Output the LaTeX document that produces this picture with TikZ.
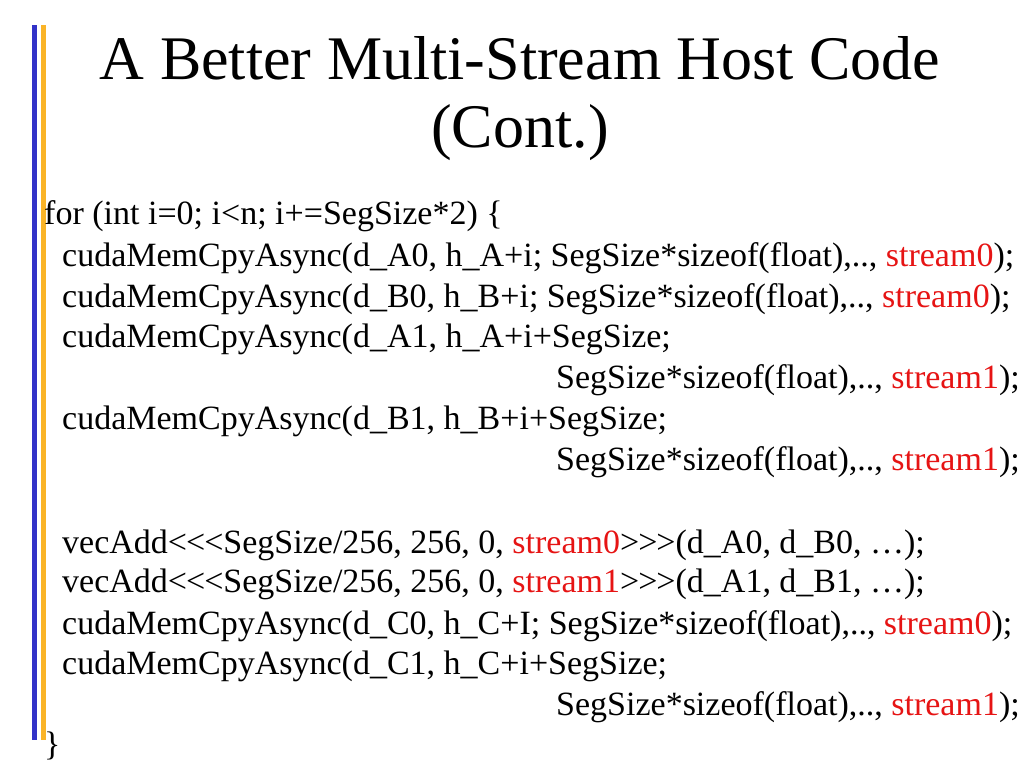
\documentclass[tikz,border=0pt]{standalone}
\usepackage{fontspec}
\setmainfont{Liberation Serif}
\begin{document}
\begin{tikzpicture}[x=1pt,y=-1pt,
  ln/.style={anchor=base west,inner sep=0pt,font=\fontsize{34}{36}\selectfont},
  tt/.style={anchor=center,inner sep=0pt,font=\fontsize{62}{66}\selectfont}]
\definecolor{sred}{RGB}{230,20,20}
\definecolor{bbar}{RGB}{50,50,200}
\definecolor{obar}{RGB}{250,180,40}
\newcommand\rs[1]{\textcolor{sred}{#1}}
\useasboundingbox (0,0) rectangle (1024,768);
\fill[bbar] (32,25) rectangle (37,740);
\fill[obar] (41,25) rectangle (46,740);
\node[tt] (t1) at (520,58) {A Better Multi-Stream Host Code};
\node[tt] (t2) at (520,133) {(Cont.)};
\node[ln] (l1) at (44,224) {for (int i=0; i<n; i+=SegSize*2) \{};
\node[ln] (l2) at (62,266) {cudaMemCpyAsync(d\_A0, h\_A+i; SegSize*sizeof(float),.., \rs{stream0});};
\node[ln] (l3) at (62,307) {cudaMemCpyAsync(d\_B0, h\_B+i; SegSize*sizeof(float),.., \rs{stream0});};
\node[ln] (l4) at (62,347) {cudaMemCpyAsync(d\_A1, h\_A+i+SegSize;};
\node[ln] (l5) at (556,388) {SegSize*sizeof(float),.., \rs{stream1});};
\node[ln] (l6) at (62,429) {cudaMemCpyAsync(d\_B1, h\_B+i+SegSize;};
\node[ln] (l7) at (556,470) {SegSize*sizeof(float),.., \rs{stream1});};
\node[ln] (l8) at (62,553) {vecAdd<\kern-1pt<\kern-1pt<SegSize/256, 256, 0, \rs{stream0}>\kern-1pt>\kern-1pt>(d\_A0, d\_B0, …);};
\node[ln] (l9) at (62,592) {vecAdd<\kern-1pt<\kern-1pt<SegSize/256, 256, 0, \rs{stream1}>\kern-1pt>\kern-1pt>(d\_A1, d\_B1, …);};
\node[ln] (l10) at (62,634) {cudaMemCpyAsync(d\_C0, h\_C+I; SegSize*sizeof(float),.., \rs{stream0});};
\node[ln] (l11) at (62,674) {cudaMemCpyAsync(d\_C1, h\_C+i+SegSize;};
\node[ln] (l12) at (556,715) {SegSize*sizeof(float),.., \rs{stream1});};
\node[ln] (l13) at (44,755) {\}};
\end{tikzpicture}
\end{document}
